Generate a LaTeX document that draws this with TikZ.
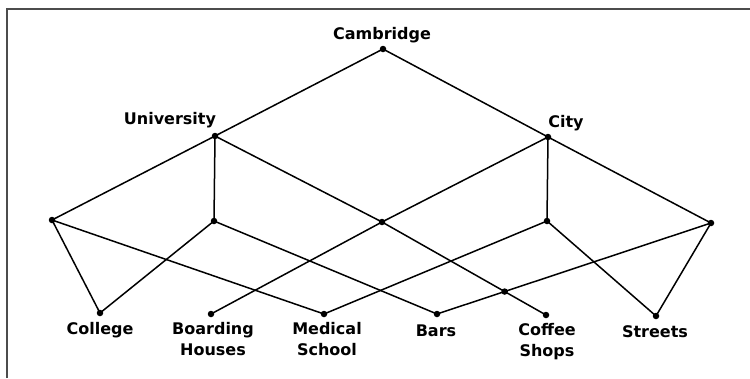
\documentclass[tikz,border=0pt]{standalone}
\usepackage{fontspec}
\setmainfont{DejaVu Sans}
\begin{document}
\begin{tikzpicture}[x=1pt,y=-1pt,
  dot/.style={circle,fill=black,inner sep=0pt,minimum size=6.5pt},
  lbl/.style={font=\fontsize{16}{20.5}\selectfont\bfseries, anchor=base, inner sep=0pt, align=center},
  edge/.style={line width=1.5pt, black},
  frame/.style={line width=2pt, black!70}]
\useasboundingbox (0,0) rectangle (750,378);
% frame
\coordinate (f1) at (6.5,378);
\coordinate (f2) at (6.5,9);
\coordinate (f3) at (750,9);
\draw[frame] (f1) -- (f2) -- (f3);
% dots
\node[dot] (cam) at (383,49) {};
\node[dot] (uni) at (215,136) {};
\node[dot] (city) at (548,137) {};
\node[dot] (m1) at (52,220) {};
\node[dot] (m2) at (214,221) {};
\node[dot] (m3) at (382,222) {};
\node[dot] (m4) at (547,221) {};
\node[dot] (m5) at (711,223) {};
\node[dot] (b1) at (100,313) {};
\node[dot] (b2) at (211,314) {};
\node[dot] (b3) at (324,314) {};
\node[dot] (b4) at (437,314) {};
\node[dot] (b5) at (546,315) {};
\node[dot] (b6) at (656,316) {};
% edges
\draw[edge] (cam.center) -- (uni.center);
\draw[edge] (cam.center) -- (city.center);
\draw[edge] (uni.center) -- (m1.center);
\draw[edge] (city.center) -- (m5.center);
\draw[edge] (uni.center) -- (m2.center);
\draw[edge] (uni.center) -- (m3.center);
\draw[edge] (city.center) -- (m3.center);
\draw[edge] (city.center) -- (m4.center);
\draw[edge] (m1.center) -- (b1.center);
\draw[edge] (m1.center) -- (b3.center);
\draw[edge] (m2.center) -- (b1.center);
\draw[edge] (m2.center) -- (b4.center);
\draw[edge] (m3.center) -- (b2.center);
\draw[edge] (m3.center) -- (b5.center);
\draw[edge] (m4.center) -- (b3.center);
\draw[edge] (m4.center) -- (b6.center);
\draw[edge] (m5.center) -- (b6.center);
\draw[edge] (m5.center) -- (b4.center);
% crossing dot
\path (intersection of m3.center--b5.center and m5.center--b4.center) coordinate (xc);
\node[dot] (xd) at (xc) {};
% labels
\node[lbl] (lcam) at (382,39) {Cambridge};
\node[lbl] (luni) at (170,124) {University};
\node[lbl] (lcity) at (566,127) {City};
\node[lbl] (lb1) at (100,334) {College};
\node[lbl] (lb2) at (213,355) {Boarding\\Houses};
\node[lbl] (lb3) at (327,355) {Medical\\School};
\node[lbl] (lb4) at (436,336) {Bars};
\node[lbl] (lb5) at (547,356) {Coffee\\Shops};
\node[lbl] (lb6) at (655,337) {Streets};
\end{tikzpicture}
\end{document}
